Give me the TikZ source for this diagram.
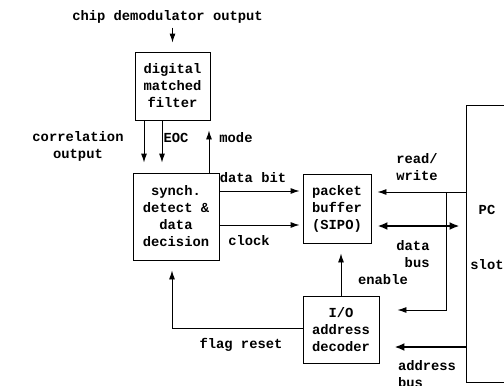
\documentclass[tikz,border=0pt]{standalone}
\usepackage{fontspec}
\setmonofont{Liberation Mono}
\usetikzlibrary{arrows.meta}
\newcommand{\lbltext}{\ttfamily\bfseries\fontsize{13.8}{17}\selectfont}
\tikzstyle{blk}=[draw,line width=0.9pt,inner sep=0pt,align=center,font=\lbltext]
\tikzstyle{txt}=[inner sep=0pt,align=center,font=\lbltext]
\tikzstyle{sig}=[line width=0.9pt,-{Latex[length=9pt,width=6pt]}]
\tikzstyle{bus}=[line width=2.5pt,-{Latex[length=10pt,width=8pt]}]

\begin{document}
\begin{tikzpicture}[x=1pt,y=-1pt]
\clip (0,0) rectangle (504,386);
% blocks
\node[txt] (chip) at (167.5,17) {chip demodulator output};
\node[blk,minimum width=75pt,minimum height=68pt] (dmf) at (172.5,86) {digital\\matched\\filter};
\node[blk,minimum width=86pt,minimum height=87pt] (sdd) at (176,216.5) {synch.\\detect \&\\data\\decision};
\node[blk,minimum width=68pt,minimum height=69pt] (pbuf) at (337,208.5) {packet\\buffer\\(SIPO)};
\node[blk,minimum width=76pt,minimum height=67pt] (iodec) at (341,329.5) {I/O\\address\\decoder};
\node[blk,minimum width=74pt,minimum height=277pt] (pc) at (503,243.5) {};
\node[txt] (pctxt) at (487,237.5) {PC\\[38pt]slot};

% rows of the connectors
\coordinate (dbit) at (0,191);
\coordinate (clk) at (0,225);
\coordinate (rw) at (0,192);
\coordinate (dbus) at (0,226);
\coordinate (tap) at (446,310);
\coordinate (abus) at (0,347);
\coordinate (flag) at (172,328);

% connectors
\draw[sig,shorten <=4pt,shorten >=9pt] (dmf.north |- chip.south) -- (dmf.north);
\draw[sig,shorten >=10pt] ([xshift=-28.5pt]dmf.south) -- ([xshift=-28.5pt]dmf.south |- sdd.north);
\draw[sig,shorten >=10pt] ([xshift=-10.5pt]dmf.south) -- ([xshift=-10.5pt]dmf.south |- sdd.north);
\draw[sig,shorten >=10pt] ([xshift=33pt]sdd.north) -- ([xshift=33pt]sdd.north |- dmf.south);
\draw[sig,shorten >=3pt] (sdd.east |- dbit) -- (pbuf.west |- dbit);
\draw[sig,shorten >=3pt] (sdd.east |- clk) -- (pbuf.west |- clk);
\draw[sig,shorten >=6pt] (pc.west |- rw) -- (pbuf.east |- rw);
\draw[sig,shorten >=18pt] (tap |- rw) -- (tap) -- (iodec.east |- tap);
\draw[bus,{Latex[length=10pt,width=8pt]}-{Latex[length=10pt,width=8pt]},shorten <=6pt,shorten >=6pt] (pbuf.east |- dbus) -- (pc.west |- dbus);
\draw[sig,shorten >=10pt] (iodec.north) -- (iodec.north |- pbuf.south);
\draw[bus,shorten >=15pt] (pc.west |- abus) -- (iodec.east |- abus);
\draw[sig,shorten >=10pt] (iodec.west |- flag) -- (flag) -- (flag |- sdd.south);

% labels
\node[txt] (corr) at (78,146) {correlation\\output};
\node[txt] (eoc) at (176,138) {EOC};
\node[txt] (mode) at (236,138) {mode};
\node[txt] (dbitl) at (253,178) {data bit};
\node[txt] (clkl) at (249,241) {clock};
\node[txt,align=left] (rwl) at (417,167) {read/\\write};
\node[txt,align=right] (dbusl) at (413,254) {data\\bus};
\node[txt] (enl) at (383,280) {enable};
\node[txt] (flagl) at (241,345) {flag reset};
\node[txt,align=left] (abusl) at (427,374) {address\\bus};
\end{tikzpicture}
\end{document}
